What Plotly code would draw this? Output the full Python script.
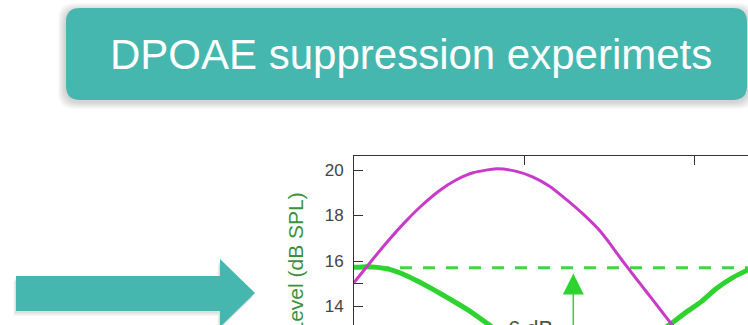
import plotly.graph_objects as go

# Page geometry (pixels)
W, H = 748, 325

# Suppressor level (magenta) vs. phase
sup_phase = [0, 0.1, 0.2, 0.3, 0.4, 0.5, 0.6, 0.7, 0.84, 0.95, 1.05, 1.15, 1.25,
             1.35, 1.45, 1.5, 1.58, 1.65, 1.72, 1.8, 1.86, 1.95]
sup_level = [15.05, 15.98, 16.88, 17.71, 18.45, 19.08, 19.56, 19.88, 20.05, 19.95,
             19.7, 19.29, 18.7, 18.05, 17.3, 16.82, 16.0, 15.32, 14.65, 13.88,
             13.3, 12.45]

# DPOAE level (green) vs. phase
dp_phase = [0, 0.07, 0.14, 0.21, 0.28, 0.37, 0.47, 0.57, 0.67, 0.78, 0.9, 1.05,
            1.29, 1.5, 1.7, 1.87, 1.95, 2.035, 2.13, 2.23, 2.32]
dp_level = [15.72, 15.75, 15.72, 15.63, 15.45, 15.13, 14.73, 14.3, 13.85, 13.27,
            12.6, 11.6, 9.7, 11.2, 12.4, 13.27, 13.73, 14.17, 14.78, 15.28, 15.62]

# Unsuppressed reference level and the suppression depth
ref_level = 15.7
suppression_db = 6
arrow_phase = 1.29

y_ticks = [14, 15, 16, 18, 20]
y_tick_text = ["14", "", "16", "18", "20"]
x_ticks = [1, 2]

TEAL = "#45b7af"
GREEN = "#2fd32f"
MAGENTA = "#c83ac8"
FONT = "Liberation Sans, Arial, sans-serif"


def px(x):
    return x / W


def py(y):
    return 1 - y / H


def path(points):
    return "M " + " L ".join(f"{px(x):.5f},{py(y):.5f}" for x, y in points) + " Z"


def rounded_rect(x0, y0, x1, y1, r):
    p = lambda x, y: f"{px(x):.5f},{py(y):.5f}"
    return (f"M {p(x0 + r, y0)} L {p(x1 - r, y0)} Q {p(x1, y0)} {p(x1, y0 + r)} "
            f"L {p(x1, y1 - r)} Q {p(x1, y1)} {p(x1 - r, y1)} "
            f"L {p(x0 + r, y1)} Q {p(x0, y1)} {p(x0, y1 - r)} "
            f"L {p(x0, y0 + r)} Q {p(x0, y0)} {p(x0 + r, y0)} Z")


fig = go.Figure()

fig.add_trace(go.Scatter(
    x=[0, 2.4], y=[ref_level, ref_level], mode="lines",
    line=dict(color="#45d345", width=3, dash="12px,11px"),
    hoverinfo="skip", showlegend=False))
fig.add_trace(go.Scatter(
    x=dp_phase, y=dp_level, mode="lines",
    line=dict(color=GREEN, width=5, shape="spline", smoothing=0.6),
    showlegend=False))
fig.add_trace(go.Scatter(
    x=sup_phase, y=sup_level, mode="lines",
    line=dict(color=MAGENTA, width=3, shape="spline", smoothing=0.6),
    showlegend=False))

shapes = []
# Soft shadow behind the title banner
for grow in [8, 7, 6, 5, 4, 3, 2]:
    shapes.append(dict(type="path", xref="paper", yref="paper",
                       path=rounded_rect(66 - grow, 8 - grow + 3, 747 + grow, 100 + grow + 1, 16),
                       fillcolor="rgba(0,0,0,0.025)", line=dict(width=0), layer="above"))
shapes.append(dict(type="path", xref="paper", yref="paper",
                   path=rounded_rect(66, 8, 747, 100, 14),
                   fillcolor=TEAL, line=dict(width=0), layer="above"))

# Block arrow pointing at the chart
arrow_pts = [(16, 276), (220, 276), (220, 259), (255, 293), (220, 327), (220, 311), (16, 311)]
for d in [5, 4, 3, 2]:
    shapes.append(dict(type="path", xref="paper", yref="paper",
                       path=path([(x - d / 2, y + d) for x, y in arrow_pts]),
                       fillcolor="rgba(0,0,0,0.03)", line=dict(width=0), layer="above"))
shapes.append(dict(type="path", xref="paper", yref="paper", path=path(arrow_pts),
                   fillcolor=TEAL, line=dict(width=0), layer="above"))

annotations = [
    dict(text="DPOAE suppression experimets", xref="paper", yref="paper",
         x=px(411), y=py(54.5), xanchor="center", yanchor="middle", showarrow=False,
         font=dict(family=FONT, size=42, color="white")),
    dict(text="Level (dB SPL)", xref="paper", yref="paper", textangle=-90,
         x=px(295), y=py(191), xanchor="center", yanchor="top", showarrow=False,
         font=dict(family=FONT, size=21, color="#3d913d")),
    dict(text="", x=arrow_phase, y=ref_level - 0.25, ax=arrow_phase,
         ay=ref_level - suppression_db, axref="x", ayref="y", xref="x", yref="y",
         showarrow=True, arrowhead=2, arrowsize=2.8, arrowwidth=1.5, arrowcolor=GREEN),
    dict(text="%d dB" % suppression_db, x=1.04, y=13.66, xref="x", yref="y",
         xanchor="center", yanchor="top", showarrow=False,
         font=dict(family=FONT, size=22, color="#4d5a3c")),
]

fig.update_layout(
    width=W, height=H, margin=dict(l=0, r=0, t=0, b=0),
    paper_bgcolor="white", plot_bgcolor="white",
    shapes=shapes, annotations=annotations,
    xaxis=dict(domain=[354 / W, 1], range=[0, (W - 354) / 170], side="top",
               showline=True, linecolor="#333", linewidth=1, mirror=False,
               ticks="inside", ticklen=9, tickcolor="#333", tickvals=x_ticks,
               showticklabels=False, showgrid=False, zeroline=False),
    yaxis=dict(domain=[0, (H - 156) / H],
               range=[20 - (H - 170) / 22.75, 20 + 14 / 22.75],
               showline=True, linecolor="#333", linewidth=1,
               ticks="inside", ticklen=9, tickcolor="#333",
               tickvals=y_ticks, ticktext=y_tick_text, ticklabelstandoff=6,
               tickfont=dict(family=FONT, size=17, color="#444"),
               showgrid=False, zeroline=False),
)

fig.write_html("out.html")
